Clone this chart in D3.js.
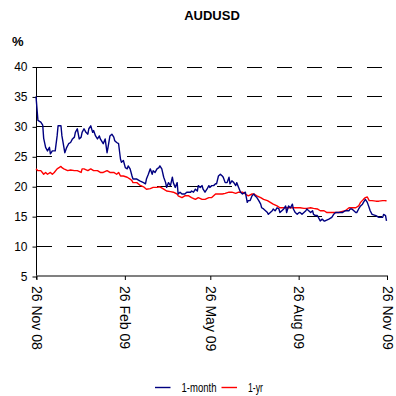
<!DOCTYPE html>
<html><head><meta charset="utf-8">
<script src="https://cdn.jsdelivr.net/npm/d3@7"></script>
<style>
body{margin:0;background:#fff;}
svg{display:block;font-family:"Liberation Sans",Arial,sans-serif;}
</style></head>
<body><svg id="c" width="396" height="396"></svg>
<script>
const title = "AUDUSD";
const yUnit = "%";
const yTicks = [5,10,15,20,25,30,35,40];
const xTickDates = ["2008-11-26","2009-02-26","2009-05-26","2009-08-26","2009-11-26"];
const xTickLabels = ["26 Nov 08","26 Feb 09","26 May 09","26 Aug 09","26 Nov 09"];
const seriesNames = ["1-month","1-yr"];
const seriesColors = ["#000080","#ff0000"];

const monthDates = ["2008-11-26","2008-11-28","2008-12-01","2008-12-03","2008-12-04","2008-12-06","2008-12-08","2008-12-10","2008-12-11","2008-12-13","2008-12-16","2008-12-18","2008-12-19","2008-12-22","2008-12-23","2008-12-26","2008-12-28","2008-12-30","2009-01-01","2009-01-03","2009-01-05","2009-01-06","2009-01-08","2009-01-10","2009-01-12","2009-01-13","2009-01-15","2009-01-17","2009-01-19","2009-01-20","2009-01-22","2009-01-24","2009-01-25","2009-01-27","2009-01-29","2009-01-31","2009-02-01","2009-02-04","2009-02-06","2009-02-08","2009-02-09","2009-02-11","2009-02-13","2009-02-15","2009-02-16","2009-02-18","2009-02-20","2009-02-22","2009-02-23","2009-02-25","2009-02-27","2009-03-01","2009-03-02","2009-03-04","2009-03-06","2009-03-07","2009-03-11","2009-03-14","2009-03-18","2009-03-20","2009-03-21","2009-03-23","2009-03-25","2009-03-27","2009-03-28","2009-03-30","2009-04-01","2009-04-03","2009-04-04","2009-04-06","2009-04-08","2009-04-10","2009-04-11","2009-04-13","2009-04-15","2009-04-17","2009-04-18","2009-04-20","2009-04-22","2009-04-23","2009-04-25","2009-04-27","2009-04-30","2009-05-02","2009-05-06","2009-05-07","2009-05-09","2009-05-11","2009-05-13","2009-05-14","2009-05-16","2009-05-18","2009-05-19","2009-05-21","2009-05-23","2009-05-25","2009-05-26","2009-05-28","2009-05-30","2009-06-01","2009-06-02","2009-06-04","2009-06-06","2009-06-08","2009-06-09","2009-06-11","2009-06-13","2009-06-15","2009-06-16","2009-06-18","2009-06-20","2009-06-22","2009-06-23","2009-06-25","2009-06-27","2009-06-29","2009-07-02","2009-07-04","2009-07-05","2009-07-07","2009-07-09","2009-07-11","2009-07-12","2009-07-14","2009-07-16","2009-07-18","2009-07-19","2009-07-21","2009-07-23","2009-07-25","2009-07-26","2009-07-28","2009-07-30","2009-07-31","2009-08-02","2009-08-04","2009-08-06","2009-08-07","2009-08-09","2009-08-11","2009-08-13","2009-08-14","2009-08-16","2009-08-18","2009-08-20","2009-08-21","2009-08-23","2009-08-25","2009-08-27","2009-08-28","2009-08-30","2009-09-01","2009-09-03","2009-09-04","2009-09-06","2009-09-08","2009-09-10","2009-09-11","2009-09-13","2009-09-15","2009-09-18","2009-09-20","2009-09-22","2009-09-23","2009-09-27","2009-09-30","2009-10-02","2009-10-04","2009-10-07","2009-10-11","2009-10-14","2009-10-18","2009-10-19","2009-10-21","2009-10-23","2009-10-25","2009-10-26","2009-10-28","2009-10-30","2009-11-01","2009-11-02","2009-11-04","2009-11-06","2009-11-08","2009-11-09","2009-11-11","2009-11-15","2009-11-18","2009-11-22","2009-11-23","2009-11-25","2009-11-26"];
const monthValues = [35.0,31.0,30.7,30.2,28.0,26.5,25.9,26.5,25.4,25.9,25.9,28.4,30.1,30.1,28.4,25.6,26.5,27.1,27.3,27.9,28.2,29.0,29.6,27.9,28.2,29.0,29.6,29.0,28.7,29.6,30.1,29.0,29.3,28.4,27.9,28.4,27.9,27.1,27.9,25.6,26.5,28.4,28.7,28.2,27.6,27.3,27.1,24.5,24.0,24.3,23.1,22.9,23.4,22.9,21.7,21.2,21.2,20.9,20.6,20.4,21.2,22.0,22.9,22.0,22.6,22.3,22.9,23.1,23.4,22.9,21.5,20.6,19.8,20.6,20.1,21.5,20.6,19.8,20.6,18.7,19.0,18.7,18.7,19.0,19.0,19.2,19.0,19.5,19.2,20.1,19.8,20.1,19.5,19.0,19.5,20.1,19.8,20.1,20.1,20.4,20.4,21.7,22.0,21.7,21.5,20.6,20.6,21.5,20.4,20.9,20.6,20.1,20.6,19.8,19.0,18.7,19.0,17.3,17.6,17.6,18.4,18.7,18.4,18.1,17.6,17.0,16.4,16.2,15.9,15.6,15.3,15.6,15.9,16.2,15.9,16.4,16.2,15.6,15.9,16.2,16.7,15.6,16.7,16.4,17.0,16.2,15.6,15.3,15.6,15.6,15.3,15.6,15.9,16.2,15.9,15.6,15.9,15.3,15.1,15.1,14.2,14.5,14.2,14.2,14.5,14.8,15.3,15.6,15.6,15.6,15.9,15.9,16.2,16.2,15.9,15.6,15.6,16.2,16.7,17.0,17.3,17.8,17.3,16.4,15.9,15.3,15.1,14.8,14.8,15.3,15.1,14.2];

const yearDates = ["2008-11-26","2008-11-28","2008-12-01","2008-12-03","2008-12-04","2008-12-06","2008-12-08","2008-12-11","2008-12-13","2008-12-15","2008-12-18","2008-12-22","2008-12-23","2008-12-25","2008-12-29","2009-01-01","2009-01-05","2009-01-08","2009-01-12","2009-01-13","2009-01-15","2009-01-19","2009-01-22","2009-01-25","2009-01-29","2009-02-01","2009-02-04","2009-02-08","2009-02-11","2009-02-15","2009-02-18","2009-02-20","2009-02-22","2009-02-25","2009-03-01","2009-03-04","2009-03-06","2009-03-07","2009-03-11","2009-03-14","2009-03-18","2009-03-21","2009-03-25","2009-03-28","2009-04-01","2009-04-04","2009-04-08","2009-04-11","2009-04-15","2009-04-18","2009-04-22","2009-04-23","2009-04-27","2009-04-30","2009-05-04","2009-05-07","2009-05-11","2009-05-14","2009-05-18","2009-05-21","2009-05-25","2009-05-28","2009-06-01","2009-06-04","2009-06-08","2009-06-11","2009-06-15","2009-06-18","2009-06-22","2009-06-25","2009-06-29","2009-07-02","2009-07-05","2009-07-09","2009-07-11","2009-07-14","2009-07-18","2009-07-21","2009-07-25","2009-07-28","2009-07-31","2009-08-04","2009-08-07","2009-08-11","2009-08-14","2009-08-18","2009-08-21","2009-08-25","2009-08-28","2009-09-01","2009-09-04","2009-09-08","2009-09-11","2009-09-15","2009-09-18","2009-09-22","2009-09-25","2009-09-30","2009-10-07","2009-10-14","2009-10-18","2009-10-21","2009-10-25","2009-10-28","2009-10-30","2009-11-02","2009-11-04","2009-11-06","2009-11-08","2009-11-11","2009-11-15","2009-11-18","2009-11-22","2009-11-25","2009-11-26"];
const yearValues = [22.9,22.6,22.6,22.2,22.0,22.3,22.0,22.3,22.0,22.3,22.9,23.3,23.1,22.9,22.6,22.7,22.6,22.6,22.3,22.9,22.9,22.6,22.9,22.6,22.6,22.3,22.3,22.6,22.3,22.3,22.0,22.3,21.7,21.7,21.5,21.2,20.9,20.6,20.6,20.2,19.9,19.5,19.6,19.8,19.8,19.9,19.5,19.2,19.1,19.0,18.7,18.4,18.1,18.4,18.4,18.1,17.8,18.1,17.8,17.8,18.1,18.1,18.7,18.7,18.7,18.8,19.0,19.0,18.8,19.0,19.0,18.7,18.4,18.7,18.7,18.4,18.1,17.8,17.6,17.3,17.0,16.7,16.4,16.4,16.4,16.4,16.4,16.4,16.4,16.3,16.3,16.4,16.3,16.2,15.9,15.9,15.6,15.6,15.6,15.9,16.4,16.4,16.4,16.7,17.3,17.8,18.1,18.2,17.6,17.6,17.5,17.5,17.6,17.6,17.5];

const parse = d3.timeParse("%Y-%m-%d");
const svg = d3.select("#c");
const L = 36, R = 386.5, T = 66.5, B = 276;
const x = d3.scaleTime().domain([parse(xTickDates[0]), parse(xTickDates[xTickDates.length-1])]).range([L, R]);
const y = d3.scaleLinear().domain([5, 40]).range([B, T]);

// grid
svg.append("g").selectAll("line").data(yTicks.filter(v => v > 5)).join("line")
  .attr("x1", L + 1).attr("x2", R + 1)
  .attr("y1", d => Math.round(y(d)) + 0.5).attr("y2", d => Math.round(y(d)) + 0.5)
  .attr("stroke", "#000").attr("stroke-width", 1).attr("stroke-dasharray", "15,15");

// y axis
const yAxis = d3.axisLeft(y).tickValues(yTicks).tickSize(4).tickPadding(5).tickFormat(d3.format("d"));
const gy = svg.append("g").attr("transform", `translate(${L + 0.5},0.5)`).call(yAxis);
gy.select(".domain").attr("stroke", "#000").attr("d", `M0,${T}V${B + 3}`);
gy.selectAll(".tick line").attr("stroke", "#000");
gy.selectAll(".tick text").attr("font-size", 12).attr("fill", "#000").attr("font-family", "Liberation Sans, Arial, sans-serif");

// x axis
const xAxis = d3.axisBottom(x).tickValues(xTickDates.map(parse)).tickSize(4).tickFormat((d, i) => xTickLabels[i]);
const gx = svg.append("g").attr("transform", `translate(0.5,${B})`).call(xAxis);
gx.select(".domain").attr("stroke", "#808080").attr("stroke-width", 2).attr("d", `M${L},0H${R + 1}`);
gx.selectAll(".tick line").attr("stroke", "#000");
gx.selectAll(".tick text")
  .attr("font-size", 14).attr("fill", "#000").attr("font-family", "Liberation Sans, Arial, sans-serif")
  .attr("text-anchor", "start").attr("dy", null)
  .attr("transform", "translate(0,10) rotate(90)")
  .attr("x", 0).attr("y", 0).attr("dominant-baseline", "central");

// lines
const line = d3.line().x(d => x(d[0])).y(d => y(d[1]));
const monthData = monthDates.map((d, i) => [parse(d), monthValues[i]]);
const yearData = yearDates.map((d, i) => [parse(d), yearValues[i]]);
svg.append("path").datum(yearData).attr("d", line).attr("fill", "none")
  .attr("stroke", seriesColors[1]).attr("stroke-width", 1.4).attr("stroke-linejoin", "round");
svg.append("path").datum(monthData).attr("d", line).attr("fill", "none")
  .attr("stroke", seriesColors[0]).attr("stroke-width", 1.4).attr("stroke-linejoin", "round");

// title & unit
svg.append("text").attr("x", 212).attr("y", 20).attr("text-anchor", "middle")
  .attr("font-weight", "bold").attr("font-size", 13).text(title);
svg.append("text").attr("x", 12).attr("y", 46)
  .attr("font-weight", "bold").attr("font-size", 13).text(yUnit);

// legend
const legX = [155, 221.5];
const lg = svg.append("g");
seriesNames.forEach((n, i) => {
  lg.append("line").attr("x1", legX[i]).attr("x2", legX[i] + 15.5).attr("y1", 387.5).attr("y2", 387.5)
    .attr("stroke", seriesColors[i]).attr("stroke-width", 1.4);
  lg.append("text").attr("x", legX[i] + 26.5).attr("y", 391.5).attr("font-size", 12)
    .attr("textLength", i === 0 ? 35 : 15).attr("lengthAdjust", "spacingAndGlyphs").text(n);
});
</script></body></html>
